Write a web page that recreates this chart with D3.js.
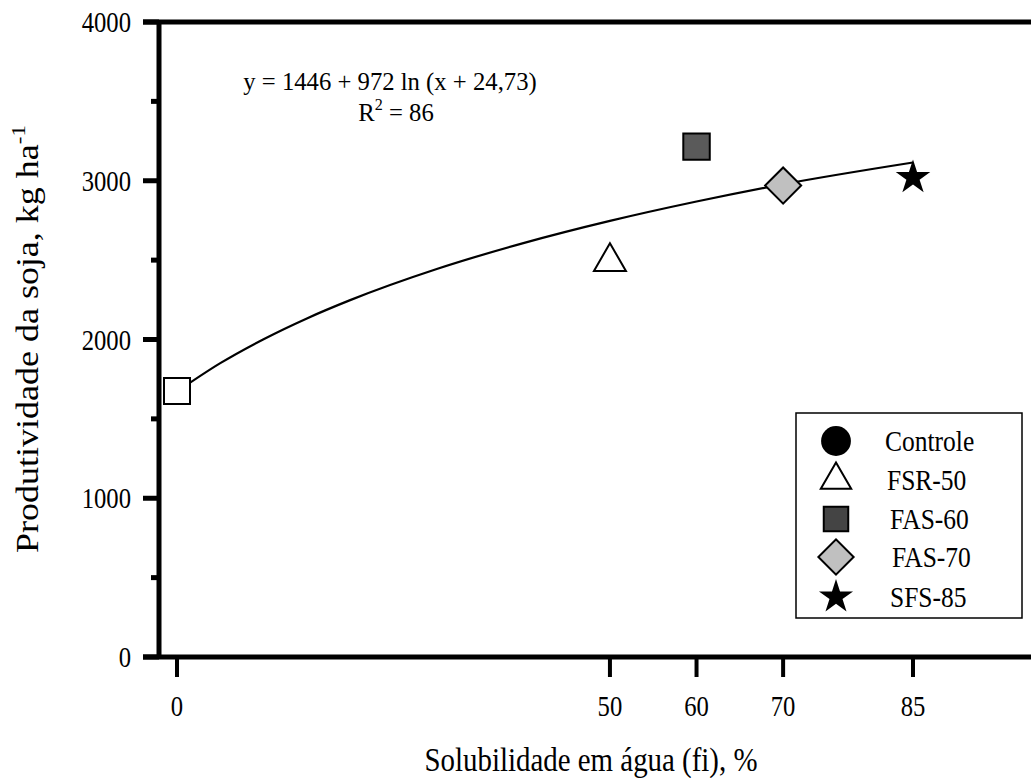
<!DOCTYPE html>
<html>
<head>
<meta charset="utf-8">
<script src="https://cdn.jsdelivr.net/npm/d3@7"></script>
<style>
  body { margin: 0; background: #fff; }
  svg { display: block; }
  text { font-family: "Liberation Serif", "Times New Roman", Times, serif; fill: #000; }
</style>
</head>
<body>
<div id="chart"></div>
<script>
// data
var treatments = ["Controle", "FSR-50", "FAS-60", "FAS-70", "SFS-85"];
var solubility = [0, 50, 60, 70, 85];
var yieldKg = [1675, 2490, 3215, 2970, 3020];
var xTicks = [0, 50, 60, 70, 85];
var yTicks = [0, 1000, 2000, 3000, 4000];
var yMinor = [500, 1500, 2500, 3500];

// fitted curve, sampled off the drawn line
var curveX = [0, 5, 10, 15, 20, 30, 40, 50, 60, 70, 85];
var curveY = [1672, 1851, 2002, 2133, 2248, 2444, 2607, 2747, 2869, 2978, 3115];

var W = 1031, H = 778;
var SX = 0.85; // the original figure is squeezed horizontally

var svg = d3.select("#chart").append("svg").attr("width", W).attr("height", H)
    .attr("font-family", "Liberation Serif, Times New Roman, serif");

var x = d3.scaleLinear().domain([0, 85]).range([177, 913]);
var y = d3.scaleLinear().domain([0, 4000]).range([657, 22]);
var axisX = 159;

// text with the horizontal squeeze
function label(px, py, str, size, anchor, sx) {
    return svg.append("text")
        .attr("transform", "translate(" + px + "," + py + ") scale(" + (sx || SX) + ",1)")
        .attr("text-anchor", anchor || "start")
        .attr("font-size", size)
        .text(str);
}

// frame lines
svg.append("line").attr("x1", axisX).attr("x2", axisX).attr("y1", y(4000) - 2).attr("y2", y(0) + 2)
    .attr("stroke", "#000").attr("stroke-width", 5);
svg.append("line").attr("x1", 143).attr("x2", W).attr("y1", y(0)).attr("y2", y(0))
    .attr("stroke", "#000").attr("stroke-width", 5);
svg.append("line").attr("x1", 143).attr("x2", W).attr("y1", y(4000)).attr("y2", y(4000))
    .attr("stroke", "#000").attr("stroke-width", 5);

// y ticks
svg.selectAll(".ytick").data(yTicks).enter().append("line")
    .attr("x1", 143).attr("x2", axisX).attr("y1", d => y(d)).attr("y2", d => y(d))
    .attr("stroke", "#000").attr("stroke-width", 5);
svg.selectAll(".yminor").data(yMinor).enter().append("line")
    .attr("x1", 151).attr("x2", axisX).attr("y1", d => y(d)).attr("y2", d => y(d))
    .attr("stroke", "#000").attr("stroke-width", 5);
yTicks.forEach(function (d) {
    label(131, y(d) + 10, d, 29, "end");
});

// x ticks
svg.selectAll(".xtick").data(xTicks).enter().append("line")
    .attr("x1", d => x(d)).attr("x2", d => x(d)).attr("y1", y(0)).attr("y2", 677)
    .attr("stroke", "#000").attr("stroke-width", 4);
xTicks.forEach(function (d) {
    label(x(d), 716, d, 29, "middle");
});

// axis titles
label(591, 771, "Solubilidade em água (fi), %", 34, "middle");

var yt = svg.append("text")
    .attr("transform", "translate(38,339) scale(" + SX + ",1) rotate(-90)")
    .attr("text-anchor", "middle").attr("font-size", 36);
yt.append("tspan").text("Produtividade da soja, kg ha");
yt.append("tspan").attr("dy", -15).attr("font-size", 23).text("-1");

// equation
label(390, 90, "y = 1446 + 972 ln (x + 24,73)", 26, "middle", 0.95);
var r2 = label(396, 121, "", 26, "middle", 0.95);
r2.append("tspan").text("R");
r2.append("tspan").attr("dy", -11).attr("font-size", 17).text("2");
r2.append("tspan").attr("dy", 11).text(" = 86");

// regression curve
var line = d3.line().x(d => x(d[0])).y(d => y(d[1])).curve(d3.curveMonotoneX);
svg.append("path").datum(d3.zip(curveX, curveY)).attr("d", line)
    .attr("fill", "none").attr("stroke", "#000").attr("stroke-width", 2.2);

// marker styles
var markerShape = [
    { type: d3.symbolSquare, size: 676, fill: "#fff", rot: 0 },
    { type: d3.symbolTriangle, size: 443, fill: "#fff", rot: 0 },
    { type: d3.symbolSquare, size: 700, fill: "#5a5a5a", rot: 0 },
    { type: d3.symbolSquare, size: 650, fill: "#c0c0c0", rot: 45 },
    { type: d3.symbolStar, size: 370, fill: "#000", rot: 0 }
];

svg.selectAll(".pt").data(solubility).enter().append("path")
    .attr("d", (d, i) => d3.symbol().type(markerShape[i].type).size(markerShape[i].size)())
    .attr("transform", (d, i) => "translate(" + x(d) + "," + y(yieldKg[i]) + ") rotate(" + markerShape[i].rot + ")")
    .attr("fill", (d, i) => markerShape[i].fill)
    .attr("stroke", "#000").attr("stroke-width", (d, i) => i === 4 ? 0 : 2);

// legend
var legendShape = [
    { type: d3.symbolCircle, size: 700, fill: "#000", rot: 0 },
    { type: d3.symbolTriangle, size: 400, fill: "#fff", rot: 0 },
    { type: d3.symbolSquare, size: 600, fill: "#444", rot: 0 },
    { type: d3.symbolSquare, size: 620, fill: "#c0c0c0", rot: 45 },
    { type: d3.symbolStar, size: 360, fill: "#000", rot: 0 }
];
var legendY = [441, 480, 519, 557, 597];
var legendTextX = [885, 887, 890, 892, 890];

svg.append("rect").attr("x", 796).attr("y", 413).attr("width", 226).attr("height", 205)
    .attr("fill", "#fff").attr("stroke", "#000").attr("stroke-width", 1.5);
svg.selectAll(".lsym").data(treatments).enter().append("path")
    .attr("d", (d, i) => d3.symbol().type(legendShape[i].type).size(legendShape[i].size)())
    .attr("transform", (d, i) => "translate(836," + legendY[i] + ") rotate(" + legendShape[i].rot + ")")
    .attr("fill", (d, i) => legendShape[i].fill)
    .attr("stroke", "#000").attr("stroke-width", (d, i) => (i === 0 || i === 4) ? 0 : 2);
treatments.forEach(function (d, i) {
    label(legendTextX[i], legendY[i] + 10, d, 30, "start");
});
</script>
</body>
</html>
